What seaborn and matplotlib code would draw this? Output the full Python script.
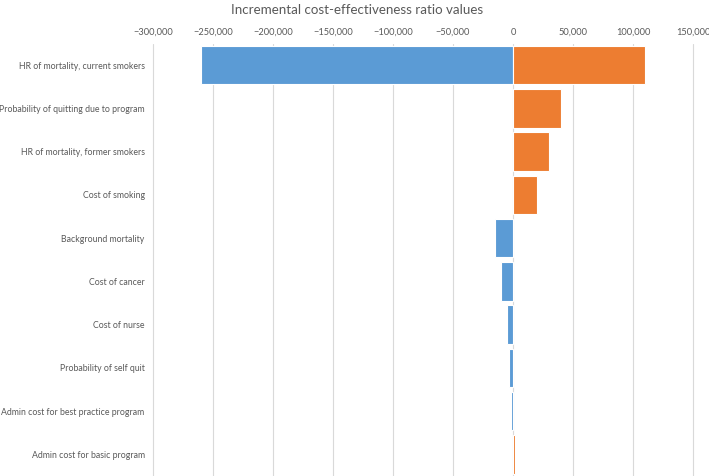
import numpy as np
import pandas as pd
import matplotlib.pyplot as plt
import seaborn as sns

# Tornado data
categories = [
    'HR of mortality, current smokers',
    'Probability of quitting due to program',
    'HR of mortality, former smokers',
    'Cost of smoking',
    'Background mortality',
    'Cost of cancer',
    'Cost of nurse',
    'Probability of self quit',
    'Admin cost for best practice program',
    'Admin cost for basic program',
]
blue_values = [-260000, np.nan, np.nan, np.nan, -15000, -10000, -5000, -3000, -2000, np.nan]
orange_values = [110000, 40000, 30000, 20000, np.nan, np.nan, np.nan, np.nan, np.nan, 2000]
x_ticks = list(range(-300000, 150001, 50000))

df = pd.DataFrame({'category': categories * 2,
                   'value': blue_values + orange_values,
                   'series': ['low'] * len(categories) + ['high'] * len(categories)})

sns.set_theme(style='white')
plt.rcParams['font.family'] = ['Lato', 'DejaVu Sans']

fig = plt.figure(figsize=(7.09, 4.76), dpi=100)
ax = fig.add_axes([0.2158, 0.0, 0.7616, 0.9086])

sns.barplot(data=df, x='value', y='category', hue='series', order=categories,
            hue_order=['low', 'high'], palette={'low': '#5B9BD5', 'high': '#ED7D31'},
            saturation=1, dodge=False, width=0.89, orient='h', edgecolor='white',
            linewidth=0.8, legend=False, ax=ax)

ax.set_xlim(-300000, 150000)
ax.set_xticks(x_ticks)
ax.set_xticklabels([f'{v:,}'.replace('-', '\u2212') for v in x_ticks])
ax.xaxis.tick_top()
ax.tick_params(axis='x', length=0, pad=5, labelsize=6.7, labelcolor='#595959')
ax.tick_params(axis='y', length=0, pad=6, labelsize=6.3, labelcolor='#595959')
ax.grid(axis='x', color='#D9D9D9', linewidth=0.8, clip_on=False)
ax.set_axisbelow(True)
ax.set_xlabel('')
ax.set_ylabel('')
for s in ax.spines.values():
    s.set_visible(False)

fig.text(357 / 709, 1 - 10 / 476, 'Incremental cost-effectiveness ratio values',
         ha='center', va='center', fontsize=9.6, color='#595959')

fig.savefig('out.png', dpi=100)
